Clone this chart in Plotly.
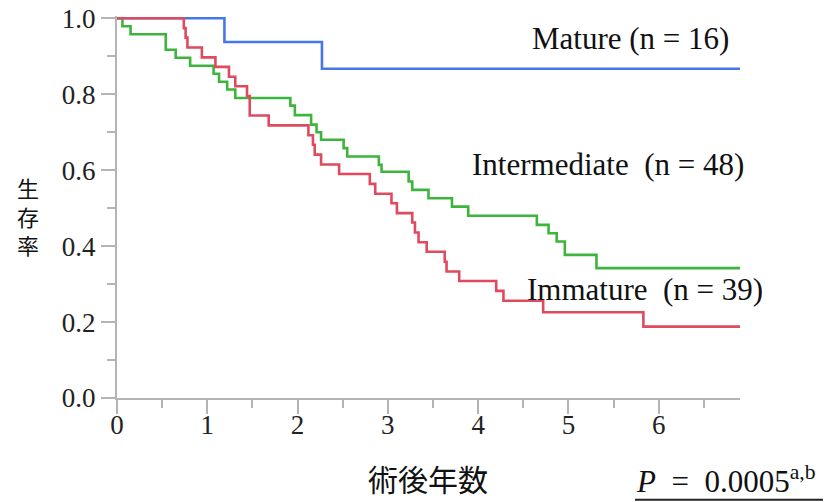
import plotly.graph_objects as go

# Kaplan-Meier step data (years after surgery, survival probability)
mature_t = [0, 1.19, 2.27, 6.9]
mature_s = [1.0, 0.9375, 0.867, 0.867]

inter_t = [0, 0.06, 0.15, 0.54, 0.65, 0.81, 1.07, 1.13, 1.22, 1.31, 1.92, 1.97,
           2.15, 2.21, 2.26, 2.51, 2.55, 2.90, 2.93, 3.23, 3.27, 3.45, 3.71,
           3.89, 4.65, 4.78, 4.87, 4.96, 5.31, 6.9]
inter_s = [1.0, 0.979, 0.958, 0.917, 0.896, 0.875, 0.854, 0.833, 0.8125, 0.79,
           0.77, 0.745, 0.72, 0.70, 0.68, 0.658, 0.636, 0.614, 0.596, 0.570,
           0.548, 0.526, 0.504, 0.48, 0.456, 0.434, 0.412, 0.377, 0.342, 0.342]

immat_t = [0, 0.74, 0.76, 0.78, 0.94, 1.09, 1.24, 1.31, 1.44, 1.47, 1.68,
           2.12, 2.17, 2.19, 2.26, 2.46, 2.80, 2.86, 3.04, 3.10, 3.27, 3.30,
           3.34, 3.43, 3.63, 3.65, 3.79, 4.20, 4.28, 4.72, 5.83, 6.9]
immat_s = [1.0, 0.974, 0.949, 0.923, 0.897, 0.872, 0.846, 0.821, 0.795, 0.744,
           0.718, 0.692, 0.667, 0.641, 0.615, 0.59, 0.564, 0.538, 0.513, 0.487,
           0.462, 0.436, 0.41, 0.385, 0.359, 0.333, 0.308, 0.282, 0.256, 0.226,
           0.188, 0.188]

group_labels = ["Mature (n = 16)", "Intermediate  (n = 48)", "Immature  (n = 39)"]
x_ticks = [0, 1, 2, 3, 4, 5, 6]
y_ticks = [0.0, 0.2, 0.4, 0.6, 0.8, 1.0]
x_title = "術後年数"
y_title = "生存率"
p_text = "<i>P</i>  =  0.0005<sup>a,b</sup>"

BLUE = "#4677e8"
GREEN = "#3db53d"
RED = "#e04a5e"
AXIS = "#b4b4b4"
SERIF = "Liberation Serif"

W, H = 834, 502
ML, MR, MT, MB = 117, 94, 16, 103.5
PW, PH = W - ML - MR, H - MT - MB


def px_to_paper(px, py):
    return (px - ML) / PW, (H - MB - py) / PH


fig = go.Figure()
for t, s, c in [(mature_t, mature_s, BLUE), (inter_t, inter_s, GREEN), (immat_t, immat_s, RED)]:
    fig.add_trace(go.Scatter(x=t, y=s, mode="lines", line=dict(color=c, width=2.6, shape="hv"),
                             showlegend=False, hoverinfo="skip"))

axis_common = dict(showline=True, linecolor=AXIS, linewidth=2, ticks="outside", tickcolor=AXIS,
                   tickwidth=2, ticklen=14, showgrid=False, zeroline=False, automargin=False,
                   tickfont=dict(family=SERIF, size=27, color="#222"))

fig.update_xaxes(range=[0, 6.9], tickvals=x_ticks, ticklabelstandoff=-12,
                 minor=dict(dtick=0.5, ticks="outside", ticklen=8, tickcolor=AXIS, tickwidth=2),
                 **axis_common)
fig.update_yaxes(range=[0, 1.006], tickvals=y_ticks, tickformat=".1f",
                 minor=dict(dtick=0.1, ticks="outside", ticklen=8, tickcolor=AXIS, tickwidth=2),
                 **axis_common)

ann_font = dict(family=SERIF, size=31, color="#111")
fig.add_annotation(x=4.57, y=0.948, text=group_labels[0], showarrow=False,
                   xanchor="left", yanchor="middle", font=ann_font)
fig.add_annotation(x=3.91, y=0.614, text=group_labels[1], showarrow=False,
                   xanchor="left", yanchor="middle", font=ann_font)
fig.add_annotation(x=4.52, y=0.285, text=group_labels[2], showarrow=False,
                   xanchor="left", yanchor="middle", font=ann_font)

# x-axis title
xt, yt = px_to_paper(428, 479)
fig.add_annotation(x=xt, y=yt, xref="paper", yref="paper", text=x_title, showarrow=False,
                   xanchor="center", yanchor="middle",
                   font=dict(family="Noto Sans CJK JP", size=30, color="#111"))

# vertical y-axis title, one character per line
xp, yp = px_to_paper(28, 216)
fig.add_annotation(x=xp, y=yp, xref="paper", yref="paper", text="<br>".join(y_title),
                   showarrow=False, xanchor="center", yanchor="middle",
                   font=dict(family="Noto Sans CJK JP", size=22, color="#111"))

# p-value with underline
xp, yp = px_to_paper(634, 480)
fig.add_annotation(x=xp, y=yp, xref="paper", yref="paper", text=p_text, showarrow=False,
                   xanchor="left", yanchor="middle",
                   font=dict(family=SERIF, size=31, color="#111"))
x0, y0 = px_to_paper(635, 500.5)
x1, _ = px_to_paper(823, 500.5)
fig.add_shape(type="line", xref="paper", yref="paper", x0=x0, x1=x1, y0=y0, y1=y0,
              line=dict(color="#222", width=2))

fig.update_layout(width=W, height=H, margin=dict(l=ML, r=MR, t=MT, b=MB),
                  plot_bgcolor="white", paper_bgcolor="white")

fig.write_html("out.html")
